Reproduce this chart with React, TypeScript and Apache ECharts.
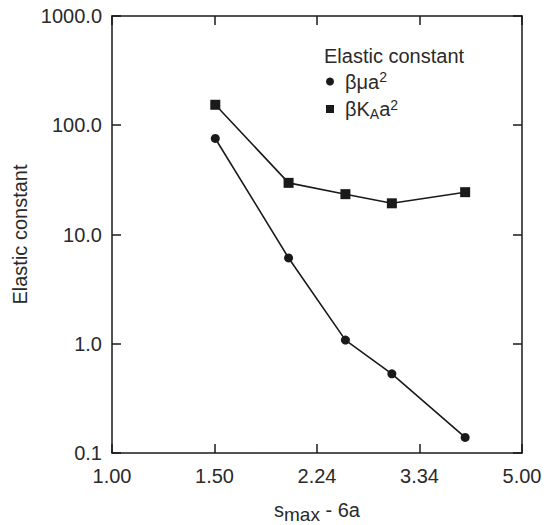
import React, { useEffect, useRef } from 'react';
import * as echarts from 'echarts';

const xValues = [1.5, 2.0, 2.5, 3.0, 4.0];
const muValues = [75.7, 6.1, 1.08, 0.53, 0.139];
const kaValues = [154, 29.7, 23.4, 19.3, 24.4];
const xTickLabels = ['1.00', '1.50', '2.24', '3.34', '5.00'];
const yTickLabels = ['0.1', '1.0', '10.0', '100.0', '1000.0'];
const seriesNames = ['mu', 'KA'];
const legendTitle = 'Elastic constant';
const yAxisTitle = 'Elastic constant';

const FONT = '"Liberation Sans", Arial, sans-serif';
const INK = '#1a1a1a';
const TXT = '#2a2a2a';

function lookup(labels: string[], v: number, digits: number) {
  const hit = labels.find((l) => Math.abs(parseFloat(l) - v) < Math.max(1e-6, Math.abs(v) * 0.01));
  return hit ?? v.toFixed(digits);
}

export default function App() {
  const ref = useRef<HTMLDivElement>(null);
  useEffect(() => {
    if (!ref.current) return;
    const chart = echarts.init(ref.current, undefined, { renderer: 'svg' });
    const xBase = Math.pow(5, 0.25);
    const axisLine = { show: true, lineStyle: { color: INK, width: 1.5 } };
    const tick = { show: true, inside: true, length: 9, lineStyle: { color: INK, width: 1.5 } };
    const xCommon = {
      type: 'log' as const,
      logBase: xBase,
      min: 1,
      max: 5,
      axisLine,
      axisTick: tick,
      splitLine: { show: false },
      minorTick: { show: false },
    };
    const yCommon = {
      type: 'log' as const,
      logBase: 10,
      min: 0.1,
      max: 1000,
      axisLine,
      axisTick: tick,
      splitLine: { show: false },
      minorTick: { show: false },
    };
    const legendRich = {
      t: { fontSize: 20, fontFamily: FONT, color: TXT },
      sup: { fontSize: 14, fontFamily: FONT, color: TXT, padding: [0, 0, 9, 0] },
      sub: { fontSize: 14, fontFamily: FONT, color: TXT, padding: [9, 0, 0, 0] },
    };
    const nameRich = {
      t: { fontSize: 20, fontFamily: FONT, color: TXT },
      sub: { fontSize: 19, fontFamily: FONT, color: TXT, padding: [10, 0, 0, 0] },
    };
    chart.setOption({
      animation: false,
      backgroundColor: '#fff',
      title: {
        text: legendTitle,
        left: 324,
        top: 46,
        padding: 0,
        textStyle: { fontSize: 20, fontWeight: 'normal', fontFamily: FONT, color: TXT },
      },
      legend: {
        orient: 'vertical',
        left: 326,
        top: 70,
        padding: 0,
        itemWidth: 8,
        itemHeight: 8,
        itemGap: 6,
        data: [
          { name: seriesNames[0], icon: 'circle' },
          { name: seriesNames[1], icon: 'rect' },
        ],
        formatter: (name: string) =>
          name === 'mu' ? '{t|βμa}{sup|2}' : '{t|βK}{sub|A}{t|a}{sup|2}',
        textStyle: { fontSize: 20, fontFamily: FONT, color: TXT, padding: [0, 0, 0, 6], rich: legendRich },
      },
      grid: { left: 112, right: 27, top: 16, bottom: 72, containLabel: false, outerBoundsMode: 'none' },
      xAxis: [
        {
          ...xCommon,
          position: 'bottom',
          axisLabel: {
            show: true,
            margin: 13,
            fontSize: 20,
            fontFamily: FONT,
            color: TXT,
            formatter: (v: number) => lookup(xTickLabels, v, 2),
          },
          name: '{t|s}{sub|max}{t| - 6a}',
          nameLocation: 'middle',
          nameGap: 42,
          nameTextStyle: { fontSize: 20, fontFamily: FONT, color: TXT, rich: nameRich },
        },
        {
          ...xCommon,
          position: 'top',
          axisLabel: { show: false },
        },
      ],
      yAxis: [
        {
          ...yCommon,
          position: 'left',
          axisLabel: {
            show: true,
            margin: 10,
            fontSize: 20,
            fontFamily: FONT,
            color: TXT,
            formatter: (v: number) => lookup(yTickLabels, v, 1),
          },
          name: yAxisTitle,
          nameLocation: 'middle',
          nameGap: 73,
          nameRotate: 90,
          nameTextStyle: { fontSize: 20, fontFamily: FONT, color: TXT },
        },
        {
          ...yCommon,
          position: 'right',
          axisLabel: { show: false },
        },
      ],
      series: [
        {
          name: seriesNames[0],
          type: 'line',
          xAxisIndex: 0,
          yAxisIndex: 0,
          data: xValues.map((x, i) => [x, muValues[i]]),
          symbol: 'circle',
          symbolSize: 9,
          lineStyle: { color: INK, width: 1.6 },
          itemStyle: { color: INK },
        },
        {
          name: seriesNames[1],
          type: 'line',
          xAxisIndex: 0,
          yAxisIndex: 0,
          data: xValues.map((x, i) => [x, kaValues[i]]),
          symbol: 'rect',
          symbolSize: 10,
          lineStyle: { color: INK, width: 1.6 },
          itemStyle: { color: INK },
        },
      ],
    });
    return () => chart.dispose();
  }, []);
  return <div ref={ref} style={{ position: 'fixed', left: 0, top: 0, width: 549, height: 525 }} />;
}
